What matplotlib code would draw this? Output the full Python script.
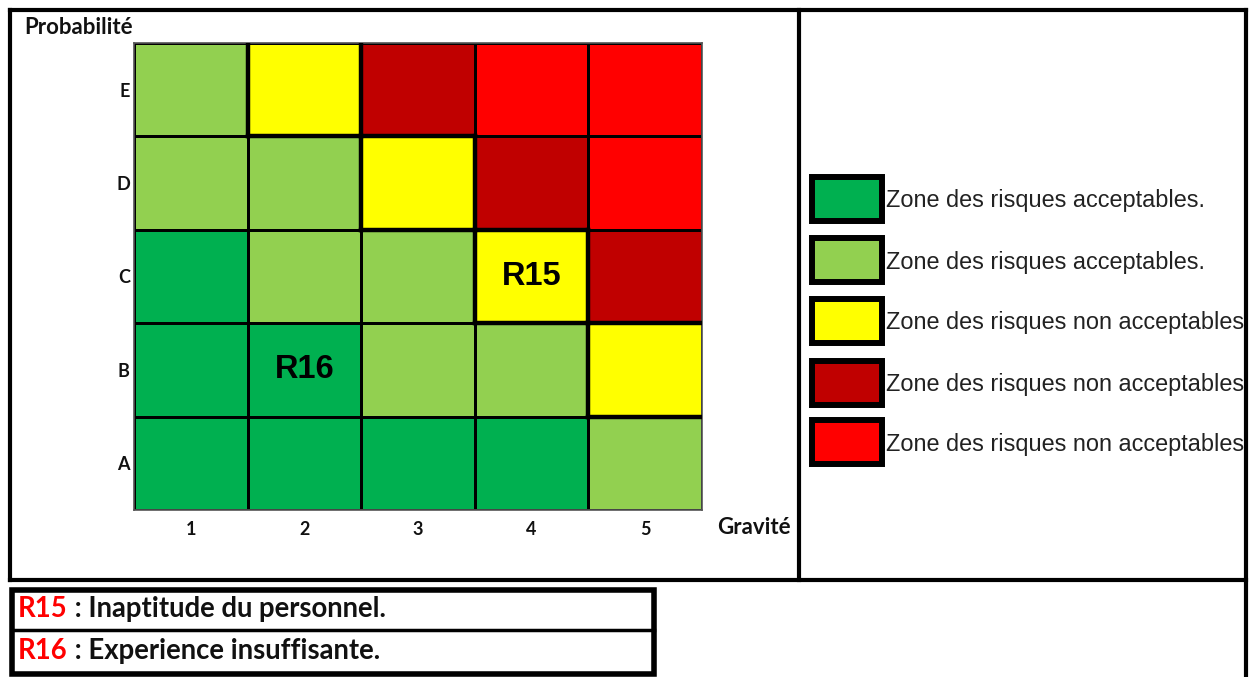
import matplotlib
matplotlib.use("Agg")
import matplotlib.pyplot as plt
import numpy as np
from matplotlib.colors import ListedColormap
from matplotlib.patches import Rectangle

# ---------------- data ----------------
gravite = ["1", "2", "3", "4", "5"]
probabilite = ["A", "B", "C", "D", "E"]          # bottom -> top
zone_colors = ["#00B050", "#92D050", "#FFFF00", "#C00000", "#FF0000"]
zone_labels = ["Zone des risques acceptables.",
               "Zone des risques acceptables.",
               "Zone des risques non acceptables",
               "Zone des risques non acceptables",
               "Zone des risques non acceptables"]
# zone index for each cell, rows A..E, columns gravité 1..5
zones = [
    [0, 0, 0, 0, 1],   # A
    [0, 0, 1, 1, 2],   # B
    [0, 1, 1, 2, 3],   # C
    [1, 1, 2, 3, 4],   # D
    [1, 2, 3, 4, 4],   # E
]
risk_names = ["R15", "R16"]
risk_gravite = [4, 2]
risk_proba = ["C", "B"]
risk_desc = ["Inaptitude du personnel.", "Experience insuffisante."]

W, H = 1252, 677
CAL = ["Lato", "DejaVu Sans"]
ARI = ["Liberation Sans", "DejaVu Sans"]

fig = plt.figure(figsize=(W / 100, H / 100), dpi=100)
fig.patch.set_facecolor("white")

# background axes in pixel coordinates for frames and texts
bg = fig.add_axes([0, 0, 1, 1])
bg.set_xlim(0, W)
bg.set_ylim(H, 0)
bg.axis("off")

lw_frame = 3.0
bg.plot([10, 1246], [10, 10], color="black", lw=lw_frame, solid_capstyle="projecting")
bg.plot([10, 10], [10, 580], color="black", lw=lw_frame, solid_capstyle="projecting")
bg.plot([799, 799], [10, 580], color="black", lw=lw_frame, solid_capstyle="projecting")
bg.plot([10, 1246], [580, 580], color="black", lw=lw_frame, solid_capstyle="projecting")
bg.plot([1246, 1246], [10, 677], color="black", lw=lw_frame, solid_capstyle="projecting")

# bottom description boxes
bg.add_patch(Rectangle((12, 590), 642, 84, fill=False, ec="black", lw=4.0))
bg.plot([12, 654], [630, 630], color="black", lw=2.5)

# heatmap axes
ax = fig.add_axes([134 / W, 1 - 510 / H, 568 / W, 467 / H])
cmap = ListedColormap(zone_colors)
Z = np.array(zones)
xe = np.arange(len(gravite) + 1) + 0.5
ye = np.arange(len(probabilite) + 1) + 0.5
ax.pcolormesh(xe, ye, Z, cmap=cmap, vmin=-0.5, vmax=len(zone_colors) - 0.5,
              edgecolors="black", linewidth=1.0)
ax.set_xlim(0.5, len(gravite) + 0.5)
ax.set_ylim(0.5, len(probabilite) + 0.5)
ax.set_xticks(np.arange(1, len(gravite) + 1))
ax.set_xticklabels(gravite, fontfamily=CAL, fontweight="bold", fontsize=13, color="#111")
ax.set_yticks(np.arange(1, len(probabilite) + 1))
ax.set_yticklabels(probabilite, fontfamily=CAL, fontweight="bold", fontsize=13, color="#111")
ax.tick_params(length=0, pad=3)
ax.tick_params(axis="x", pad=8)
for s in ax.spines.values():
    s.set_color("#555555")
    s.set_linewidth(1.2)

# thick outlines around the yellow (limit) cells
n_r, n_c = Z.shape
for i in range(n_r):
    for j in range(n_c):
        if Z[i, j] == 2:
            x0, x1 = j + 0.5, j + 1.5
            y0, y1 = i + 0.5, i + 1.5
            edges = []
            if j > 0:
                edges.append(([x0, x0], [y0, y1]))
            if j < n_c - 1:
                edges.append(([x1, x1], [y0, y1]))
            if i > 0:
                edges.append(([x0, x1], [y0, y0]))
            if i < n_r - 1:
                edges.append(([x0, x1], [y1, y1]))
            for xs, ys in edges:
                ax.plot(xs, ys, color="black", lw=3.2, solid_capstyle="projecting", zorder=5)

# risk labels inside cells
for name, g, p in zip(risk_names, risk_gravite, risk_proba):
    ax.text(g, probabilite.index(p) + 1, name, ha="center", va="center",
            fontfamily=ARI, fontweight="bold", fontsize=23.5, color="black", zorder=6)

# axis titles
bg.text(24, 28, "Probabilité", ha="left", va="center", fontfamily=CAL,
        fontweight="bold", fontsize=16, color="#111")
bg.text(754, 528, "Gravité", ha="center", va="center", fontfamily=CAL,
        fontweight="bold", fontsize=16, color="#111")

# legend
leg_centers = [199, 260, 321, 383, 442]
for c, lab, yc in zip(zone_colors, zone_labels, leg_centers):
    bg.add_patch(Rectangle((812, yc - 22), 70, 44, fc=c, ec="black", lw=4.3))
    bg.text(886, yc + 2, lab, ha="left", va="center", fontfamily=ARI,
            fontsize=16.9, color="#222")

# descriptions below
desc_y = [609, 651]
for name, d, yc in zip(risk_names, risk_desc, desc_y):
    t = bg.text(18, yc, name, ha="left", va="center", fontfamily=CAL,
                fontweight="bold", fontsize=19.8, color="#FF0000")
    bg.annotate(" : " + d, xy=(1, 0.5), xycoords=t, ha="left", va="center",
                fontfamily=CAL, fontweight="bold", fontsize=19.8, color="#111")

fig.savefig("out.png", dpi=100, facecolor="white")
